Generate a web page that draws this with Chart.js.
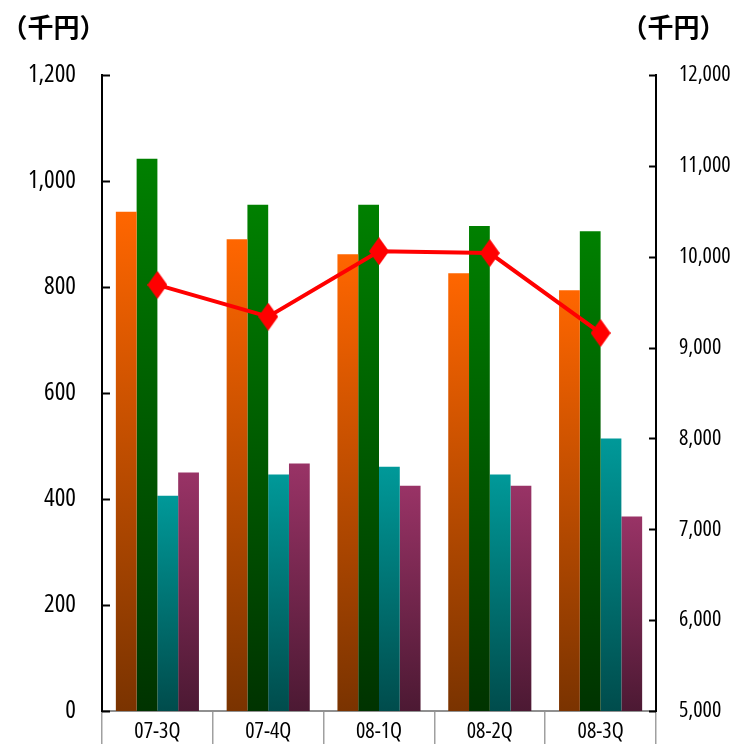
<!DOCTYPE html>
<html>
<head>
<meta charset="utf-8">
<script src="https://cdn.jsdelivr.net/npm/chart.js@4"></script>
<style>
  body { margin: 0; background: #fff; }
  canvas { display: block; }
</style>
</head>
<body>
<canvas id="chart" width="735" height="744"></canvas>
<script>
// data
const quarters = ['07-3Q', '07-4Q', '08-1Q', '08-2Q', '08-3Q'];
const orangeBars = [942, 890, 862, 826, 794];
const greenBars = [1042, 955, 955, 915, 905];
const tealBars = [406, 446, 461, 446, 514];
const purpleBars = [450, 467, 425, 425, 367];
const redLine = [9690, 9340, 10060, 10040, 9160];
const unitLabel = '（千円）';

// Open Sans has a condensed face installed; "condensed" goes in as font-stretch
const numFont = "'Open Sans', sans-serif";

// vertical gradient per bar, from its top down to zero
function grad(top, bottom) {
    return function(c) {
        const chart = c.chart;
        if (!chart.chartArea || c.type !== 'data') return top;
        const ys = chart.scales.y;
        const g = chart.ctx.createLinearGradient(0, ys.getPixelForValue(c.raw), 0, ys.getPixelForValue(0));
        g.addColorStop(0, top);
        g.addColorStop(1, bottom);
        return g;
    };
}

// tall red diamond marker
const diamond = document.createElement('canvas');
diamond.width = 20;
diamond.height = 28;
const dctx = diamond.getContext('2d');
dctx.fillStyle = '#ff0000';
dctx.beginPath();
dctx.moveTo(10, 0);
dctx.lineTo(20, 14);
dctx.lineTo(10, 28);
dctx.lineTo(0, 14);
dctx.closePath();
dctx.fill();

// inward tick marks + unit labels
const extras = {
    id: 'extras',
    afterDraw(chart) {
        const ctx = chart.ctx;
        ctx.save();
        ctx.strokeStyle = '#000';
        ctx.lineWidth = 2;
        const left = chart.scales.y, right = chart.scales.y1;
        left.ticks.forEach((t, i) => {
            const py = Math.round(left.getPixelForTick(i)) + 0.5;
            ctx.beginPath();
            ctx.moveTo(left.right, py);
            ctx.lineTo(left.right + 8, py);
            ctx.stroke();
        });
        right.ticks.forEach((t, i) => {
            const py = Math.round(right.getPixelForTick(i)) + 0.5;
            ctx.beginPath();
            ctx.moveTo(right.left - 7, py);
            ctx.lineTo(right.left, py);
            ctx.stroke();
        });
        ctx.fillStyle = '#000';
        ctx.font = "bold 26px 'Noto Sans CJK JP', sans-serif";
        ctx.textAlign = 'center';
        ctx.textBaseline = 'middle';
        ctx.fillText(unitLabel, 53.5, 27);
        ctx.fillText(unitLabel, 673.5, 27);
        ctx.restore();
    }
};

new Chart(document.getElementById('chart').getContext('2d'), {
    type: 'bar',
    data: {
        labels: quarters,
        datasets: [
            {
                type: 'line',
                data: redLine,
                yAxisID: 'y1',
                borderColor: '#ff0000',
                borderWidth: 4,
                pointStyle: diamond,
                pointRadius: 10,
                order: 0
            },
            { data: orangeBars, backgroundColor: grad('#ff6600', '#7a3300'), order: 1 },
            { data: greenBars, backgroundColor: grad('#008000', '#003300'), order: 1 },
            { data: tealBars, backgroundColor: grad('#009999', '#004c4c'), order: 1 },
            { data: purpleBars, backgroundColor: grad('#993366', '#4c1933'), order: 1 }
        ]
    },
    options: {
        responsive: false,
        animation: false,
        categoryPercentage: 0.75,
        barPercentage: 1.0,
        layout: { padding: { top: 75, left: 0, right: 0, bottom: 0 } },
        plugins: {
            legend: { display: false },
            tooltip: { enabled: false }
        },
        scales: {
            x: {
                offset: true,
                grid: {
                    display: true,
                    offset: true,
                    drawOnChartArea: false,
                    drawTicks: true,
                    tickLength: 33,
                    color: '#a0a0a0',
                    lineWidth: 1.5
                },
                border: { display: true, color: '#909090', width: 2 },
                ticks: { color: '#000', font: { family: numFont, size: 22, weight: 'condensed' }, padding: -25 },
                afterFit(s) { s.height = 33; }
            },
            y: {
                position: 'left',
                min: 0,
                max: 1200,
                grid: { display: false },
                border: { display: true, color: '#000', width: 2 },
                ticks: {
                    stepSize: 200,
                    color: '#000',
                    padding: 18,
                    font: { family: numFont, size: 25, weight: 'condensed' },
                    callback: v => v.toLocaleString('en-US')
                },
                afterFit(s) { s.width = 102; }
            },
            y1: {
                position: 'right',
                min: 5000,
                max: 12000,
                grid: { display: false },
                border: { display: true, color: '#000', width: 2 },
                ticks: {
                    stepSize: 1000,
                    color: '#000',
                    padding: 15,
                    font: { family: numFont, size: 22, weight: 'condensed' },
                    callback: v => v.toLocaleString('en-US')
                },
                afterFit(s) { s.width = 79; }
            }
        }
    },
    plugins: [extras]
});
</script>
</body>
</html>
